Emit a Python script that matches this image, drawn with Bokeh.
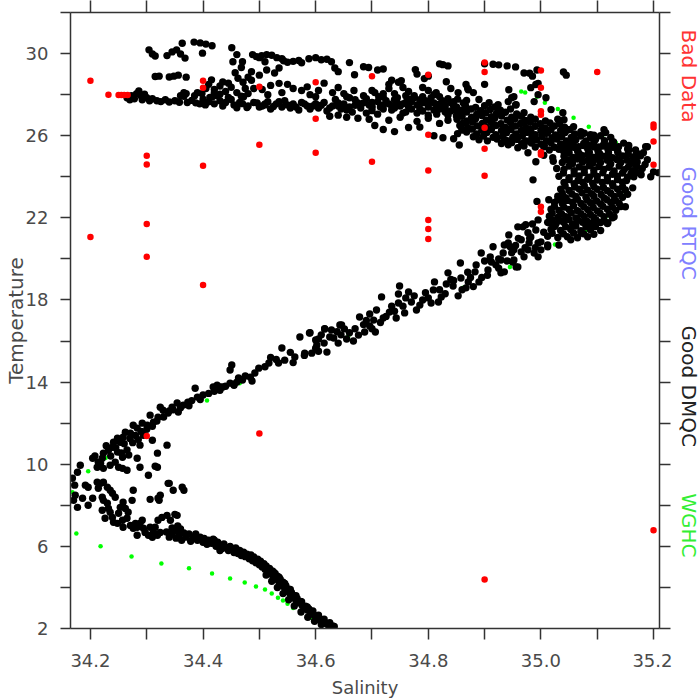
import math
from bokeh.plotting import figure
from bokeh.layouts import row
from bokeh.models import FixedTicker, LinearAxis, Range1d, PrintfTickFormatter, ColumnDataSource
from bokeh.core.properties import value
from bokeh.embed import file_html
from bokeh.resources import INLINE

# ---------------- data (salinity, temperature) ----------------
x_major = [34.2, 34.4, 34.6, 34.8, 35.0, 35.2]
x_minor = [34.3, 34.5, 34.7, 34.9, 35.1]
y_major = [2, 6, 10, 14, 18, 22, 26, 30]
y_minor = [4, 8, 12, 16, 20, 24, 28, 32]

legend_labels = ["Bad Data", "Good RTQC", "Good DMQC", "WGHC"]
legend_colors = ["#ff3333", "#8080ff", "#222222", "#33ee33"]
legend_temp = [29.07, 20.93, 11.9, 4.2]

bad_data = [
    (34.2, 28.68), (34.232, 28.0), (34.25, 27.98), (34.255, 27.98), (34.26, 27.98), (34.266, 27.98),
    (34.3, 25.02), (34.3, 24.6), (34.3, 21.7), (34.3, 20.1), (34.2, 21.07),
    (34.4, 28.68), (34.4, 28.34), (34.4, 24.54), (34.4, 18.73),
    (34.5, 28.39), (34.5, 25.56), (34.6, 28.6), (34.6, 26.83), (34.6, 25.17),
    (34.5, 11.5), (34.3, 11.37),
    (34.7, 28.9), (34.8, 28.97), (34.8, 26.05), (34.7, 24.73), (34.8, 24.3),
    (34.8, 21.9), (34.8, 21.46), (34.8, 20.97),
    (34.9, 29.56), (34.9, 29.1), (34.9, 26.39), (34.9, 25.37), (34.9, 24.05),
    (35.0, 29.17), (35.0, 28.34), (35.0, 27.19), (35.0, 27.02), (35.0, 25.2), (35.0, 25.07),
    (35.0, 22.54), (35.0, 22.3),
    (35.1, 29.1), (35.2, 26.54), (35.2, 26.4), (35.2, 25.72), (35.2, 24.59),
    (34.9, 4.39), (35.2, 6.78),
]

wghc = [
    (34.965, 28.15), (34.972, 28.1), (34.993, 27.9), (35.007, 27.6), (35.03, 27.3), (35.058, 26.88),
    (35.085, 26.44), (35.11, 26.05), (35.133, 25.66), (35.156, 23.95), (35.15, 23.27),
    (35.115, 22.05), (35.08, 21.4), (35.025, 20.7), (34.945, 19.6), (34.862, 18.6), (34.784, 17.7),
    (34.658, 16.24), (34.465, 13.95), (34.407, 13.1), (34.227, 10.3), (34.196, 9.66), (34.168, 8.63),
    (34.175, 6.63), (34.218, 6.0), (34.273, 5.51), (34.326, 5.17), (34.375, 4.93), (34.416, 4.68),
    (34.448, 4.44), (34.474, 4.24), (34.494, 4.05), (34.51, 3.9), (34.522, 3.7), (34.533, 3.5),
    (34.542, 3.36), (34.55, 3.2), (34.56, 3.0), (34.575, 2.75), (34.595, 2.45), (34.615, 2.2),
]

dmqc_top_left = [
    (34.265, 27.85), (34.27, 27.75), (34.273, 27.95), (34.278, 27.8), (34.282, 28.05), (34.286, 28.18),
    (34.29, 27.95), (34.292, 27.75), (34.296, 28.02), (34.30, 27.85), (34.305, 27.7), (34.31, 27.8),
    (34.318, 27.7), (34.325, 27.66), (34.333, 27.75), (34.34, 27.64), (34.35, 27.7), (34.358, 27.63),
    (34.366, 27.92), (34.372, 27.62), (34.38, 27.72), (34.387, 27.6), (34.394, 27.55), (34.40, 27.78),
    (34.404, 27.5), (34.41, 27.65), (34.416, 27.88), (34.42, 27.55), (34.43, 27.7), (34.435, 27.45),
    (34.44, 27.62), (34.45, 27.76), (34.455, 27.5), (34.46, 27.36), (34.47, 27.56), (34.48, 27.45),
    (34.49, 27.62), (34.50, 27.4),
    (34.315, 28.88), (34.322, 28.9), (34.34, 28.86), (34.348, 28.9), (34.356, 28.95), (34.37, 28.85),
    (34.304, 30.18), (34.31, 29.98), (34.315, 29.88), (34.336, 29.9), (34.345, 30.08), (34.353, 30.18),
    (34.36, 29.98), (34.368, 29.78), (34.363, 30.5), (34.384, 30.56), (34.395, 30.52), (34.405, 30.46),
    (34.416, 30.38), (34.399, 30.02),
    (34.398, 28.05), (34.405, 28.3), (34.41, 28.5), (34.415, 28.72), (34.42, 28.25), (34.425, 27.95),
    (34.43, 28.42), (34.435, 28.62), (34.44, 28.15), (34.445, 27.86), (34.45, 28.36), (34.412, 27.86),
    (34.42, 28.1), (34.43, 28.02), (34.445, 28.56), (34.46, 28.1), (34.468, 27.92), (34.475, 28.3),
    (34.48, 28.05), (34.39, 28.1), (34.385, 27.95), (34.37, 28.05), (34.36, 27.95), (34.366, 28.1),
    (34.451, 30.28), (34.46, 29.95), (34.453, 29.6), (34.47, 29.6), (34.468, 29.32), (34.457, 29.07),
    (34.462, 28.8), (34.488, 29.95), (34.495, 29.85), (34.5, 29.8), (34.471, 28.6), (34.486, 29.12),
    (34.486, 28.7), (34.49, 28.3), (34.472, 27.9), (34.465, 27.62), (34.478, 27.37), (34.496, 27.6),
    (34.51, 27.5), (34.515, 28.0), (34.51, 29.6), (34.48, 28.85), (34.5, 28.95),
]

dmqc_top_mid = [
    (34.504, 29.9), (34.513, 29.95), (34.522, 29.92), (34.531, 29.8), (34.54, 29.75), (34.543, 29.65),
    (34.55, 29.58), (34.56, 29.62), (34.57, 29.66), (34.575, 29.55), (34.588, 29.75), (34.6, 29.8),
    (34.61, 29.7), (34.62, 29.72), (34.628, 29.6), (34.634, 29.3), (34.66, 29.56), (34.685, 29.36),
    (34.694, 29.32), (34.71, 29.2), (34.72, 29.25), (34.513, 29.2), (34.527, 29.05), (34.535, 29.3),
    (34.64, 29.12), (34.669, 28.97), (34.82, 29.5), (34.835, 29.4),
    (34.52, 28.45), (34.535, 28.55), (34.55, 28.5), (34.56, 28.3), (34.575, 28.2), (34.585, 28.38),
    (34.54, 28.1), (34.505, 28.25), (34.59, 28.0), (34.6, 27.9), (34.605, 28.2), (34.615, 28.56),
    (34.63, 28.1), (34.64, 28.35), (34.65, 28.05), (34.66, 27.85), (34.668, 28.2), (34.705, 28.1),
    (34.73, 28.5), (34.747, 28.6), (34.73, 28.3), (34.74, 28.05), (34.755, 28.35), (34.777, 29.22),
    (34.793, 28.78), (34.79, 28.35), (34.814, 28.1), (34.826, 29.46), (34.832, 28.63), (34.853, 28.1),
    (34.685, 27.95), (34.7, 28.2), (34.72, 28.05), (34.765, 28.15), (34.775, 27.95), (34.8, 28.2),
    (34.82, 27.9), (34.84, 28.3), (34.735, 28.7), (34.752, 28.68), (34.78, 29.0), (34.8, 28.9),
    (34.505, 27.45), (34.515, 27.65), (34.52, 27.3), (34.53, 27.55), (34.54, 27.4), (34.545, 27.7),
    (34.555, 27.35), (34.56, 27.55), (34.57, 27.25), (34.575, 27.62), (34.585, 27.45), (34.59, 27.3),
    (34.6, 27.56), (34.605, 27.35), (34.615, 27.62), (34.62, 27.2), (34.63, 27.45), (34.635, 27.76),
    (34.645, 27.3), (34.65, 27.55), (34.66, 27.4), (34.665, 27.15), (34.675, 27.6), (34.68, 27.35),
    (34.69, 27.8), (34.695, 27.5), (34.70, 27.22), (34.71, 27.66), (34.715, 27.4), (34.72, 27.88),
    (34.73, 27.55), (34.735, 27.25), (34.74, 27.75), (34.75, 27.45), (34.755, 27.1), (34.76, 27.62),
    (34.77, 27.3), (34.775, 27.85), (34.78, 27.5), (34.79, 27.2), (34.795, 27.7), (34.80, 27.4),
    (34.81, 27.6), (34.815, 27.05), (34.82, 27.3), (34.83, 27.5), (34.835, 27.8), (34.84, 27.2),
    (34.845, 27.45), (34.85, 26.96),
    (34.69, 27.1), (34.7, 27.45), (34.712, 27.9), (34.725, 27.7), (34.745, 27.6), (34.765, 27.4),
    (34.768, 27.78), (34.785, 27.3), (34.79, 27.6), (34.805, 27.85), (34.81, 27.25), (34.825, 27.7),
    (34.83, 27.15), (34.845, 27.65), (34.71, 27.05), (34.735, 27.45), (34.76, 27.15), (34.8, 27.0),
    (34.82, 27.55), (34.7, 27.62), (34.67, 27.75), (34.655, 27.9), (34.64, 27.6),
    (34.51, 27.55), (34.525, 27.42), (34.535, 27.65), (34.55, 27.5), (34.565, 27.4), (34.58, 27.55),
    (34.595, 27.45), (34.61, 27.48), (34.625, 27.35), (34.64, 27.45), (34.655, 27.25), (34.67, 27.48),
    (34.685, 27.6), (34.7, 27.35), (34.72, 27.5), (34.74, 27.35), (34.755, 27.55), (34.77, 27.65),
    (34.785, 27.75), (34.8, 27.55), (34.815, 27.42), (34.83, 27.35), (34.84, 27.6), (34.85, 27.2),
    (34.72, 27.3), (34.78, 27.1), (34.835, 27.0), (34.76, 27.95), (34.745, 27.85), (34.79, 27.9),
    (34.81, 28.0),
    (34.625, 26.95), (34.64, 27.0), (34.655, 26.9), (34.675, 26.85), (34.705, 26.5), (34.72, 26.3),
    (34.74, 26.2), (34.765, 26.4), (34.785, 26.42), (34.81, 26.0), (34.826, 25.9), (34.845, 25.85),
    (34.855, 25.55), (34.695, 26.8), (34.73, 26.75), (34.75, 26.9), (34.78, 26.7), (34.8, 26.85),
    (34.82, 26.6), (34.835, 26.75), (34.86, 26.3),
]

dmqc_top_right = [
    (34.9, 29.5), (34.915, 29.48), (34.925, 29.45), (34.94, 29.4), (34.955, 29.35), (34.97, 29.05),
    (34.98, 29.04), (34.985, 28.9), (34.993, 29.2), (34.995, 28.55), (35.04, 29.1), (35.045, 28.95),
    (34.9, 28.5), (34.867, 28.49), (34.871, 28.24), (34.88, 28.1), (34.89, 27.76), (34.908, 27.61),
    (34.924, 27.51), (34.942, 27.66), (34.943, 28.24), (34.952, 27.9), (34.956, 27.51), (34.97, 27.12),
    (34.982, 28.34), (34.991, 28.49), (34.995, 28.0), (34.988, 27.66), (35.009, 27.85), (35.018, 27.27),
    (35.039, 27.12), (35.041, 26.78), (35.03, 26.8), (35.058, 26.44), (35.071, 26.2), (35.112, 26.29),
    (35.115, 26.15), (35.088, 26.05), (35.127, 25.71), (35.156, 25.32), (35.189, 25.46), (34.948, 27.85),
    (34.955, 27.5), (34.87, 28.3),
    (34.852, 27.78), (34.868, 27.72), (34.862, 27.6),
    (34.85, 27.4), (34.866, 27.45), (34.884, 27.38), (34.9, 27.46), (34.918, 27.4),
    (34.853, 27.1), (34.868, 27.15), (34.886, 27.05), (34.902, 27.12), (34.921, 27.08), (34.937, 27.14),
    (34.957, 27.06),
    (34.851, 26.8), (34.869, 26.72), (34.884, 26.82), (34.903, 26.75), (34.918, 26.85), (34.94, 26.76),
    (34.954, 26.82), (34.972, 26.74), (34.99, 26.8), (35.008, 26.72),
    (34.856, 26.5), (34.87, 26.4), (34.887, 26.48), (34.903, 26.42), (34.92, 26.5), (34.937, 26.4),
    (34.955, 26.47), (34.973, 26.4), (34.99, 26.46), (35.007, 26.38), (35.024, 26.47), (35.042, 26.42),
    (34.852, 26.1), (34.868, 26.18), (34.886, 26.08), (34.904, 26.15), (34.92, 26.05), (34.939, 26.14),
    (34.956, 26.08), (34.975, 26.16), (34.99, 26.05), (35.01, 26.12), (35.026, 26.04), (35.043, 26.16),
    (35.06, 26.08), (35.077, 26.12), (35.094, 26.02),
    (34.89, 25.8), (34.905, 25.75), (34.922, 25.84), (34.94, 25.76), (34.958, 25.82), (34.974, 25.74),
    (34.992, 25.8), (35.01, 25.76), (35.028, 25.84), (35.045, 25.74), (35.062, 25.8), (35.08, 25.75),
    (35.097, 25.82), (35.113, 25.76),
    (34.97, 25.5), (34.99, 25.45), (35.006, 25.52), (35.024, 25.44), (35.04, 25.5), (35.058, 25.44),
    (35.076, 25.52), (35.094, 25.46), (35.11, 25.5), (35.128, 25.44),
    (35.05, 25.18), (35.068, 25.12), (35.086, 25.2), (35.104, 25.14), (35.12, 25.18),
    (34.86, 27.25), (34.876, 27.3), (34.893, 27.22), (34.91, 27.28), (34.928, 27.24), (34.946, 27.3),
    (34.86, 26.95), (34.877, 26.9), (34.895, 26.98), (34.912, 26.92), (34.93, 26.96), (34.948, 26.9),
    (34.965, 26.95), (34.982, 26.9),
    (34.862, 26.62), (34.879, 26.66), (34.896, 26.6), (34.912, 26.64), (34.929, 26.58), (34.946, 26.64),
    (34.964, 26.6), (34.981, 26.65), (34.999, 26.58), (35.016, 26.62), (35.033, 26.6),
    (34.86, 26.28), (34.878, 26.32), (34.895, 26.26), (34.912, 26.3), (34.93, 26.25), (34.947, 26.3),
    (34.965, 26.26), (34.982, 26.3), (35.0, 26.25), (35.018, 26.3), (35.035, 26.26), (35.052, 26.3),
    (34.88, 25.95), (34.898, 25.98), (34.915, 25.92), (34.932, 25.97), (34.95, 25.92), (34.967, 25.98),
    (34.984, 25.92), (35.002, 25.96), (35.02, 25.9), (35.037, 25.96), (35.054, 25.92),
    (34.93, 25.62), (34.948, 25.66), (34.966, 25.6), (34.983, 25.64), (35.0, 25.6), (35.018, 25.66),
    (35.035, 25.6), (35.052, 25.64), (35.015, 25.3), (35.032, 25.34), (35.04, 25.25),
]

dmqc_right_mass = [
    (34.935, 25.8), (34.942, 25.56), (34.959, 25.41), (34.952, 25.95), (34.97, 25.66), (34.977, 25.17),
    (34.988, 25.95), (34.982, 26.2), (34.991, 24.73), (35.005, 25.46), (35.021, 24.93), (34.986, 23.85),
    (35.012, 26.15), (35.03, 25.95), (35.048, 26.29), (35.028, 24.4), (35.022, 24.75), (35.005, 25.05),
    (35.071, 25.98), (35.088, 25.9), (35.106, 26.0), (35.124, 25.92),
    (35.058, 25.7), (35.076, 25.62), (35.094, 25.68), (35.112, 25.6), (35.129, 25.7), (35.147, 25.64),
    (35.048, 25.35), (35.065, 25.28), (35.083, 25.36), (35.101, 25.3), (35.119, 25.34), (35.136, 25.26),
    (35.154, 25.35), (35.168, 25.3),
    (35.041, 25.0), (35.057, 24.94), (35.074, 25.02), (35.092, 24.95), (35.11, 25.0), (35.127, 24.93),
    (35.145, 25.01), (35.163, 24.96), (35.177, 25.02),
    (35.038, 24.7), (35.056, 24.64), (35.074, 24.72), (35.092, 24.66), (35.106, 24.7), (35.124, 24.62),
    (35.142, 24.7), (35.16, 24.65), (35.171, 24.72),
    (35.041, 24.36), (35.059, 24.3), (35.077, 24.38), (35.094, 24.32), (35.112, 24.36), (35.13, 24.28),
    (35.148, 24.35), (35.163, 24.3),
    (35.032, 24.02), (35.05, 23.96), (35.068, 24.04), (35.086, 23.98), (35.1, 24.02), (35.118, 23.95),
    (35.136, 24.03), (35.154, 23.98),
    (35.041, 23.72), (35.059, 23.66), (35.074, 23.74), (35.092, 23.68), (35.109, 23.72), (35.127, 23.66),
    (35.145, 23.73),
    (35.035, 23.4), (35.05, 23.33), (35.068, 23.4), (35.083, 23.35), (35.1, 23.39), (35.118, 23.32),
    (35.136, 23.4), (35.15, 23.36),
    (35.03, 23.05), (35.044, 22.98), (35.062, 23.04), (35.08, 23.0), (35.094, 23.05), (35.112, 22.97),
    (35.13, 23.04), (35.145, 23.0),
    (35.024, 22.75), (35.038, 22.7), (35.056, 22.76), (35.071, 22.7), (35.088, 22.74), (35.106, 22.68),
    (35.124, 22.75), (35.139, 22.7),
    (35.018, 22.42), (35.032, 22.36), (35.05, 22.41), (35.065, 22.35), (35.083, 22.4), (35.1, 22.34),
    (35.118, 22.42), (35.133, 22.37),
    (35.015, 22.08), (35.03, 22.02), (35.044, 22.06), (35.062, 22.0), (35.077, 22.07), (35.094, 22.02),
    (35.112, 22.06), (35.127, 22.0),
    (35.012, 21.78), (35.027, 21.72), (35.041, 21.77), (35.056, 21.7), (35.074, 21.78), (35.088, 21.73),
    (35.106, 21.77), (35.118, 21.72),
    (35.018, 21.44), (35.035, 21.38), (35.053, 21.43), (35.071, 21.37), (35.088, 21.42), (35.106, 21.38),
    (35.012, 21.1), (35.03, 21.04), (35.047, 21.08), (35.065, 21.03), (35.083, 21.08),
    (34.993, 22.8), (35.014, 22.88), (34.959, 21.56), (34.973, 21.66), (34.942, 20.78), (34.965, 20.93),
    (34.982, 21.07), (34.995, 20.78), (34.952, 20.44), (34.977, 20.44), (35.0, 20.44), (34.929, 19.95),
    (34.95, 19.85), (34.97, 20.1), (34.995, 20.1), (34.935, 19.37), (34.956, 19.61), (35.012, 20.68),
    (35.032, 20.68), (35.053, 20.93), (35.071, 21.27), (35.119, 21.76), (35.13, 22.05), (35.15, 22.54),
    (35.039, 23.02),
    (35.189, 24.83), (35.182, 25.17), (35.172, 24.2), (35.195, 24.0), (35.2, 24.24), (35.209, 24.2),
    (35.154, 23.15), (35.163, 23.46), (35.186, 25.46), (35.17, 24.5), (35.165, 24.0),
    (35.05, 25.5), (35.067, 25.46), (35.085, 25.52), (35.103, 25.45), (35.12, 25.5), (35.138, 25.46),
    (35.156, 25.52),
    (35.049, 25.15), (35.066, 25.18), (35.084, 25.12), (35.102, 25.16), (35.12, 25.1), (35.137, 25.16),
    (35.155, 25.12), (35.17, 25.16),
    (35.048, 24.82), (35.065, 24.86), (35.083, 24.8), (35.1, 24.85), (35.118, 24.8), (35.135, 24.84),
    (35.153, 24.8), (35.168, 24.86), (35.185, 24.6),
    (35.05, 24.52), (35.068, 24.48), (35.086, 24.54), (35.103, 24.5), (35.121, 24.46), (35.139, 24.52),
    (35.155, 24.47), (35.18, 24.4),
    (35.04, 24.18), (35.059, 24.14), (35.077, 24.2), (35.094, 24.15), (35.11, 24.19), (35.127, 24.12),
    (35.145, 24.18), (35.16, 24.15), (35.178, 24.1),
    (35.05, 23.86), (35.066, 23.82), (35.083, 23.88), (35.1, 23.84), (35.118, 23.8), (35.136, 23.86),
    (35.152, 23.82),
    (35.043, 23.55), (35.06, 23.5), (35.077, 23.56), (35.094, 23.52), (35.111, 23.48), (35.128, 23.55),
    (35.145, 23.5),
    (35.038, 23.2), (35.055, 23.16), (35.073, 23.22), (35.09, 23.18), (35.107, 23.14), (35.124, 23.2),
    (35.14, 23.16),
    (35.03, 22.88), (35.047, 22.85), (35.065, 22.9), (35.082, 22.86), (35.099, 22.82), (35.117, 22.88),
    (35.133, 22.84),
    (35.024, 22.56), (35.041, 22.52), (35.058, 22.58), (35.076, 22.54), (35.093, 22.5), (35.11, 22.56),
    (35.127, 22.52), (35.142, 22.55),
    (35.02, 22.22), (35.037, 22.18), (35.054, 22.24), (35.071, 22.2), (35.088, 22.16), (35.105, 22.22),
    (35.122, 22.18),
    (35.02, 21.9), (35.035, 21.86), (35.05, 21.92), (35.066, 21.88), (35.082, 21.84), (35.098, 21.9),
    (35.112, 21.86),
    (35.025, 21.6), (35.044, 21.56), (35.062, 21.6), (35.08, 21.56), (35.097, 21.58),
    (35.02, 21.25), (35.04, 21.22), (35.058, 21.26), (35.076, 21.22), (35.094, 21.2),
]

dmqc_mid_branch = [
    (34.5805, 15.41), (34.589, 16.39), (34.602, 15.8), (34.605, 16.1), (34.616, 16.59), (34.62, 15.46),
    (34.628, 16.54), (34.632, 16.15), (34.64, 15.9), (34.646, 16.78), (34.651, 16.59), (34.667, 16.0),
    (34.676, 16.29), (34.678, 17.17), (34.687, 16.44), (34.696, 16.73), (34.696, 17.32), (34.703, 17.02),
    (34.708, 17.51), (34.706, 16.44), (34.717, 18.15), (34.72, 17.12), (34.731, 17.41), (34.743, 17.12),
    (34.747, 17.85), (34.747, 18.29), (34.749, 18.68), (34.758, 17.37), (34.765, 18.39), (34.77, 17.9),
    (34.779, 17.51), (34.8, 18.1), (34.809, 18.49), (34.811, 18.88), (34.818, 17.9), (34.823, 18.15),
    (34.832, 18.78), (34.835, 19.32), (34.844, 18.68), (34.853, 18.2), (34.857, 19.8), (34.858, 19.07),
    (34.867, 18.59), (34.871, 18.88), (34.883, 19.37), (34.89, 18.88), (34.894, 20.29), (34.906, 19.46),
    (34.912, 19.85), (34.915, 20.59), (34.92, 19.71), (34.929, 19.32), (34.933, 20.29), (34.935, 20.68),
    (34.943, 21.17), (34.952, 19.95), (34.959, 19.61), (34.965, 20.34), (34.968, 21.56), (34.977, 21.27),
    (34.979, 20.78), (34.988, 20.29), (34.991, 21.41), (35.0, 20.83), (35.012, 20.59), (35.014, 21.76),
    (35.023, 21.56),
    (34.61, 16.3), (34.66, 16.4), (34.685, 16.8), (34.735, 17.7), (34.79, 18.0), (34.84, 19.0),
    (34.875, 19.1), (34.9, 19.9), (34.925, 20.0), (34.945, 20.6), (34.96, 21.0), (34.985, 21.7),
    (34.995, 21.9), (35.005, 21.3),
    (34.6, 15.65), (34.615, 15.9), (34.625, 16.2), (34.638, 16.45), (34.655, 16.1), (34.67, 16.6),
    (34.69, 17.0), (34.7, 16.6), (34.715, 16.9), (34.725, 17.2), (34.74, 17.45), (34.755, 17.7),
    (34.76, 18.1), (34.775, 18.2), (34.785, 17.75), (34.795, 18.35), (34.805, 17.85), (34.82, 18.5),
    (34.83, 18.3), (34.845, 18.95), (34.86, 18.5), (34.87, 19.35), (34.88, 18.65), (34.885, 19.7),
    (34.895, 19.1), (34.905, 19.2), (34.91, 20.1), (34.925, 19.55), (34.94, 19.9), (34.948, 20.3),
    (34.955, 20.65), (34.972, 20.55), (34.98, 21.0), (34.99, 20.55),
    (34.593, 15.41), (34.563, 15.22), (34.545, 15.07), (34.534, 14.93), (34.517, 14.93), (34.499, 14.68),
    (34.492, 14.44), (34.484, 14.24), (34.53, 15.1), (34.56, 14.95), (34.58, 15.3), (34.605, 15.5),
    (34.451, 14.83), (34.448, 14.59), (34.43, 13.76), (34.463, 14.2), (34.455, 13.9), (34.572, 16.2),
    (34.59, 16.4), (34.6, 16.05), (34.616, 16.6), (34.643, 16.78), (34.645, 16.3), (34.54, 15.66),
    (34.555, 15.45), (34.51, 14.75), (34.52, 15.2),
]

dmqc_bottom_left = [
    (34.487, 14.05), (34.46, 14.0), (34.448, 13.95), (34.435, 13.76), (34.425, 13.85), (34.418, 13.76),
    (34.4, 13.37), (34.386, 13.7), (34.39, 13.27), (34.373, 13.02), (34.365, 12.88), (34.354, 12.98),
    (34.356, 12.54), (34.345, 12.78), (34.338, 12.49), (34.329, 12.63), (34.324, 12.78), (34.32, 12.29),
    (34.312, 12.05), (34.306, 12.39), (34.301, 11.9), (34.292, 12.0), (34.283, 11.76), (34.276, 11.9),
    (34.271, 11.51), (34.262, 11.56), (34.258, 11.32), (34.253, 11.07), (34.248, 11.27), (34.241, 11.07),
    (34.239, 10.83), (34.232, 10.68), (34.223, 10.54), (34.221, 10.29), (34.228, 10.9), (34.248, 10.59),
    (34.257, 10.34), (34.244, 10.1), (34.25, 9.85), (34.257, 9.8), (34.235, 9.95), (34.223, 9.8),
    (34.218, 10.05), (34.212, 9.85), (34.204, 10.29), (34.182, 9.95), (34.177, 9.61), (34.168, 9.32),
    (34.172, 8.98), (34.173, 8.49), (34.17, 8.24), (34.177, 7.9), (34.186, 8.34), (34.191, 8.98),
    (34.196, 8.88), (34.196, 8.0), (34.204, 8.34), (34.212, 9.12), (34.218, 9.07), (34.223, 9.12),
    (34.214, 8.83), (34.221, 8.39), (34.221, 7.76), (34.223, 8.24), (34.23, 8.88), (34.235, 8.73),
    (34.239, 8.59), (34.244, 8.39), (34.23, 8.1), (34.232, 7.85), (34.235, 7.66), (34.226, 7.37),
    (34.239, 7.41), (34.241, 7.17), (34.248, 7.12), (34.25, 7.61), (34.253, 7.9), (34.258, 8.15),
    (34.262, 7.85), (34.257, 7.27), (34.258, 6.93), (34.265, 7.37), (34.267, 7.66), (34.274, 8.24),
    (34.271, 7.02), (34.28, 7.12), (34.276, 6.88), (34.283, 6.93), (34.288, 7.12), (34.292, 7.27),
    (34.283, 6.54), (34.294, 6.88), (34.297, 6.68), (34.306, 6.93), (34.303, 6.54), (34.31, 6.44),
    (34.312, 6.68), (34.315, 6.93), (34.319, 6.54), (34.32, 7.27), (34.324, 6.68), (34.327, 7.41),
    (34.336, 7.51), (34.342, 7.27), (34.354, 7.51),
    (34.265, 9.71), (34.276, 8.73), (34.288, 9.85), (34.283, 10.29), (34.303, 9.46), (34.306, 8.29),
    (34.319, 10.54), (34.319, 9.85), (34.32, 8.34), (34.324, 8.49), (34.336, 10.93), (34.338, 9.07),
    (34.347, 8.73), (34.363, 8.88), (34.366, 8.73), (34.294, 11.41), (34.31, 11.17), (34.288, 10.93),
    (34.315, 9.9), (34.34, 9.07), (34.322, 8.24), (34.35, 7.56),
    (34.245, 10.8), (34.26, 11.0), (34.265, 10.7), (34.27, 11.25), (34.28, 11.4), (34.255, 10.55),
    (34.268, 10.45), (34.236, 10.4), (34.275, 11.05), (34.285, 11.2), (34.29, 11.6), (34.3, 11.7),
    (34.31, 11.85), (34.318, 12.1), (34.33, 12.3), (34.34, 12.6), (34.347, 12.65), (34.36, 12.75),
    (34.375, 12.85), (34.38, 13.1), (34.395, 13.15), (34.41, 13.45), (34.42, 13.55), (34.43, 13.6),
    (34.44, 13.8), (34.455, 13.85), (34.47, 14.1), (34.475, 14.3), (34.208, 10.4), (34.214, 10.1),
]

dmqc_deep_curve = [
    (34.335, 6.7), (34.34, 6.45), (34.345, 6.6), (34.35, 6.75), (34.352, 6.4), (34.358, 6.55),
    (34.362, 6.3), (34.366, 6.65), (34.37, 6.45), (34.375, 6.6), (34.378, 6.25), (34.383, 6.45),
    (34.387, 6.6), (34.39, 6.3), (34.395, 6.45), (34.4, 6.2), (34.402, 6.38), (34.407, 6.1),
    (34.41, 6.3), (34.415, 6.15), (34.418, 6.35), (34.423, 6.0), (34.426, 6.2), (34.43, 6.05),
    (34.434, 5.9), (34.437, 6.12), (34.44, 5.95), (34.445, 5.8), (34.448, 6.0), (34.452, 5.85),
    (34.455, 5.7), (34.458, 5.92), (34.462, 5.65), (34.465, 5.8), (34.468, 5.55), (34.472, 5.72),
    (34.475, 5.5), (34.478, 5.62), (34.482, 5.4), (34.485, 5.58), (34.488, 5.3), (34.49, 5.48),
    (34.494, 5.2), (34.497, 5.38), (34.5, 5.1), (34.502, 5.28), (34.505, 5.0), (34.508, 5.15),
    (34.51, 4.88), (34.512, 5.05), (34.515, 4.78), (34.518, 4.92), (34.52, 4.65), (34.523, 4.8),
    (34.525, 4.52), (34.528, 4.68), (34.53, 4.4), (34.532, 4.55), (34.535, 4.25), (34.537, 4.4),
    (34.54, 4.1), (34.542, 4.25), (34.545, 3.95), (34.547, 4.08), (34.55, 3.8), (34.552, 3.92),
    (34.555, 3.65), (34.557, 3.75), (34.56, 3.5), (34.562, 3.6), (34.565, 3.38), (34.567, 3.46),
    (34.57, 3.25), (34.573, 3.32), (34.576, 3.12), (34.58, 3.0), (34.582, 3.08), (34.585, 2.9),
    (34.588, 2.95), (34.59, 2.8), (34.594, 2.72), (34.597, 2.66), (34.6, 2.58), (34.603, 2.52),
    (34.606, 2.46), (34.609, 2.4), (34.612, 2.34), (34.615, 2.3), (34.618, 2.25), (34.621, 2.2),
    (34.624, 2.16), (34.627, 2.13), (34.63, 2.12), (34.633, 2.1),
    (34.525, 4.75), (34.535, 4.5), (34.545, 4.2), (34.555, 3.9), (34.565, 3.6), (34.575, 3.3),
    (34.585, 3.05), (34.595, 2.85), (34.605, 2.65), (34.615, 2.45), (34.625, 2.28),
    (34.512, 4.6), (34.522, 4.3), (34.532, 4.0), (34.542, 3.7), (34.552, 3.4), (34.562, 3.1),
    (34.574, 2.8), (34.586, 2.55), (34.598, 2.35), (34.61, 2.2),
    (34.345, 6.9), (34.36, 6.85), (34.355, 7.0), (34.43, 5.8), (34.42, 6.3),
]

dmqc_groups = [dmqc_top_left, dmqc_top_mid, dmqc_top_right, dmqc_right_mass,
               dmqc_mid_branch, dmqc_bottom_left, dmqc_deep_curve]

# ---------------- main figure ----------------
FONT = "DejaVu Sans"
LINE = "#333333"
TXT = "#4a4a4a"

p = figure(width=672, height=700, output_backend="svg", toolbar_location=None,
           x_range=Range1d(34.1646, 35.2106), y_range=Range1d(2, 32),
           min_border_left=68, min_border_right=13, min_border_top=12, min_border_bottom=72)
p.outline_line_color = None
p.grid.visible = False
p.background_fill_color = "white"


def style_axis(ax, tick_out):
    ax.axis_line_color = LINE
    ax.axis_line_width = 1.5
    ax.major_tick_line_color = LINE
    ax.minor_tick_line_color = LINE
    ax.major_tick_line_width = 1.5
    ax.minor_tick_line_width = 1.5
    ax.major_tick_in = 0
    ax.minor_tick_in = 0
    ax.major_tick_out = tick_out
    ax.minor_tick_out = tick_out


# bottom axis (labelled)
p.xaxis.ticker = FixedTicker(ticks=x_major, minor_ticks=x_minor)
p.xaxis.formatter = PrintfTickFormatter(format="%.1f")
style_axis(p.xaxis[0], 11)
p.xaxis.major_label_text_font = FONT
p.xaxis.major_label_text_font_size = "18px"
p.xaxis.major_label_text_color = TXT
p.xaxis.major_label_standoff = 14
p.xaxis.axis_label = "Salinity"
p.xaxis.axis_label_text_font = FONT
p.xaxis.axis_label_text_font_size = "18px"
p.xaxis.axis_label_text_font_style = "normal"
p.xaxis.axis_label_text_color = TXT
p.xaxis.axis_label_standoff = 7

# left axis (labelled)
p.yaxis.ticker = FixedTicker(ticks=y_major, minor_ticks=y_minor)
style_axis(p.yaxis[0], 10)
p.yaxis.major_label_text_font = FONT
p.yaxis.major_label_text_font_size = "18px"
p.yaxis.major_label_text_color = TXT
p.yaxis.major_label_standoff = 12
p.yaxis.axis_label = "Temperature"
p.yaxis.axis_label_text_font = FONT
p.yaxis.axis_label_text_font_size = "20px"
p.yaxis.axis_label_text_font_style = "normal"
p.yaxis.axis_label_text_color = TXT
p.yaxis.axis_label_standoff = -5

# top and right axes: ticks only (all ticks as minor ticks -> no labels)
top = LinearAxis(ticker=FixedTicker(ticks=[], minor_ticks=x_major + x_minor))
style_axis(top, 12)
top.major_label_standoff = 0
p.add_layout(top, "above")
right = LinearAxis(ticker=FixedTicker(ticks=[], minor_ticks=y_major + y_minor))
style_axis(right, 11)
right.major_label_standoff = 0
p.add_layout(right, "right")

# points: WGHC below, DMQC, then bad data on top
p.scatter([s for s, t in wghc], [t for s, t in wghc], size=4.5,
          fill_color="#00ff00", line_color=None)
for grp in dmqc_groups:
    p.scatter([s for s, t in grp], [t for s, t in grp], size=7.4,
              fill_color="black", line_color=None)
p.scatter([s for s, t in bad_data], [t for s, t in bad_data], size=6.5,
          fill_color="#ff0000", line_color=None)

# ---------------- right strip with the coloured key texts ----------------
# y range maps the same temperatures to the same pixel rows as the main plot
px_per_deg = 616 / 30.0
p2 = figure(width=28, height=700, output_backend="svg", toolbar_location=None,
            x_range=Range1d(0, 28),
            y_range=Range1d(2 - 72 / px_per_deg, 32 + 12 / px_per_deg),
            x_axis_location=None, y_axis_location=None,
            min_border_left=0, min_border_right=0, min_border_top=0, min_border_bottom=0)
p2.outline_line_color = None
p2.grid.visible = False

key_src = ColumnDataSource(dict(x=[16] * len(legend_labels), y=legend_temp,
                                text=legend_labels, color=legend_colors))
p2.text(x="x", y="y", text="text", source=key_src, angle=-math.pi / 2,
        text_color="color", text_align="center", text_baseline="middle",
        text_font=value(FONT), text_font_size=value("20px"))

layout = row(p, p2)
open("out.html", "w").write(file_html(layout, INLINE))
